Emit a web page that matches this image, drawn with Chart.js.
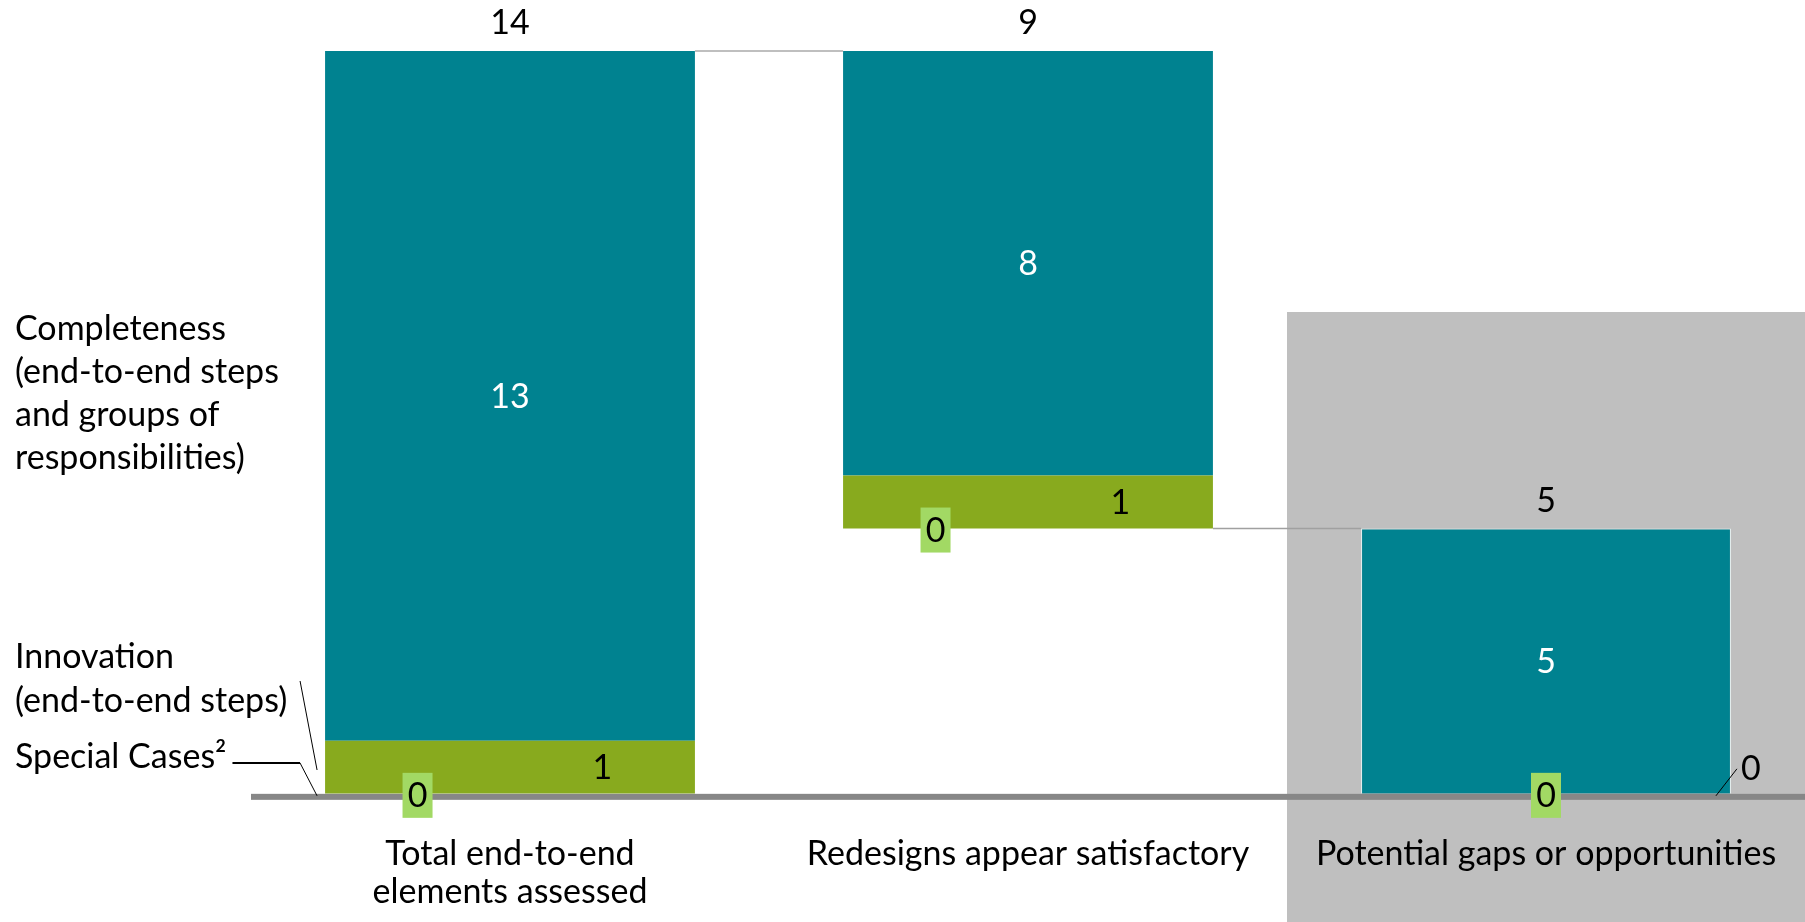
<!DOCTYPE html>
<html>
<head>
<meta charset="utf-8">
<script src="https://cdn.jsdelivr.net/npm/chart.js@4.4.1/dist/chart.umd.min.js"></script>
<style>
  html, body { margin: 0; padding: 0; background: #ffffff; }
  canvas { display: block; }
</style>
</head>
<body>
<canvas id="graficoCascata" width="1805" height="922"></canvas>
<script>
// categorias e series
var categorias = [['Total end-to-end', 'elements assessed'], 'Redesigns appear satisfactory', 'Potential gaps or opportunities'];
var casosEspeciais = [0, 0, 0];
var inovacao = [1, 1, 0];
var completude = [13, 8, 5];

var textoCompletude = ['Completeness', '(end-to-end steps', 'and groups of', 'responsibilities)'];
var textoInovacao = ['Innovation', '(end-to-end steps)'];
var textoEspeciais = 'Special Cases\u00b2';

var totais = categorias.map(function (c, i) {
  return casosEspeciais[i] + inovacao[i] + completude[i];
});
// a segunda barra fica pendurada no topo da primeira
var base = [0, totais[0] - totais[1], 0];

var corAzul = '#008290';
var corVerde = '#88aa1e';
var corCaixa = '#a2d964';
var fonte = '34px Lato';

var decoracao = {
  id: 'decoracao',
  beforeDraw: function (chart) {
    var ctx = chart.ctx;
    var x = chart.scales.x;
    var larg = x.width / categorias.length;
    var esq = x.getPixelForValue(2) - larg / 2;
    ctx.save();
    ctx.fillStyle = '#bfbfbf';
    ctx.fillRect(esq, 312, chart.width - esq, chart.height - 312);
    ctx.restore();
  },
  afterDatasetsDraw: function (chart) {
    var ctx = chart.ctx;
    var x = chart.scales.x;
    var y = chart.scales.y;
    var y0 = y.getPixelForValue(0);
    var mEsp = chart.getDatasetMeta(1).data;
    var mIno = chart.getDatasetMeta(2).data;
    var mCom = chart.getDatasetMeta(3).data;

    ctx.save();
    // linha do eixo
    ctx.fillStyle = '#878787';
    ctx.fillRect(x.left, y0, x.right - x.left, 6);

    // ligacoes entre as barras
    var b1 = mCom[0], b2 = mCom[1], b3 = mCom[2];
    ctx.strokeStyle = '#bfbfbf';
    ctx.lineWidth = 2;
    ctx.beginPath();
    ctx.moveTo(b1.x + b1.width / 2, b1.y);
    ctx.lineTo(b2.x - b2.width / 2, b1.y);
    ctx.stroke();
    var yBase = y.getPixelForValue(base[1]);
    ctx.strokeStyle = '#a0a0a0';
    ctx.lineWidth = 1.5;
    ctx.beginPath();
    ctx.moveTo(b2.x + b2.width / 2, yBase);
    ctx.lineTo(b3.x - b3.width / 2, yBase);
    ctx.stroke();

    ctx.font = fonte;
    ctx.textAlign = 'center';
    ctx.textBaseline = 'alphabetic';

    for (var i = 0; i < categorias.length; i++) {
      var c = mCom[i];
      var ino = mIno[i];
      var esp = mEsp[i];

      // total acima da barra
      ctx.fillStyle = '#000000';
      ctx.fillText(String(totais[i]), c.x, c.y - 17);

      // completude
      ctx.fillStyle = '#ffffff';
      ctx.fillText(String(completude[i]), c.x, (c.y + c.base) / 2 + 12);

      // inovacao
      ctx.fillStyle = '#000000';
      if (inovacao[i] > 0) {
        ctx.fillText(String(inovacao[i]), ino.x + ino.width / 4, (ino.y + ino.base) / 2 + 12);
      } else {
        var dir = ino.x + ino.width / 2;
        ctx.strokeStyle = '#000000';
        ctx.lineWidth = 1;
        ctx.beginPath();
        ctx.moveTo(dir - 15, ino.base + 2);
        ctx.lineTo(dir + 6, ino.base - 25);
        ctx.stroke();
        ctx.fillText(String(inovacao[i]), dir + 20, ino.base - 26 + 12);
      }

      // casos especiais
      var cx = inovacao[i] > 0 ? esp.x - esp.width / 4 : esp.x;
      var cy = esp.base + 1;
      ctx.fillStyle = corCaixa;
      ctx.fillRect(cx - 15, cy - 22, 30, 45);
      ctx.fillStyle = '#000000';
      ctx.fillText(String(casosEspeciais[i]), cx, cy + 12);
    }

    // rotulos das series a esquerda
    ctx.textAlign = 'left';
    ctx.fillStyle = '#000000';
    textoCompletude.forEach(function (t, k) {
      ctx.fillText(t, 15, 340 + k * 43);
    });
    textoInovacao.forEach(function (t, k) {
      ctx.fillText(t, 15, 668 + k * 44);
    });
    ctx.fillText(textoEspeciais, 15, 768);
    var fimTexto = 15 + ctx.measureText(textoEspeciais).width + 6;

    var bl = b1.x - b1.width / 2 - 8;
    ctx.strokeStyle = '#000000';
    ctx.lineWidth = 2;
    ctx.beginPath();
    ctx.moveTo(fimTexto, 763);
    ctx.lineTo(bl - 17, 763);
    ctx.stroke();
    ctx.lineWidth = 1;
    ctx.beginPath();
    ctx.moveTo(bl - 17, 763);
    ctx.lineTo(bl, y0 + 2);
    ctx.moveTo(bl - 17, 681);
    ctx.lineTo(bl, 770);
    ctx.stroke();
    ctx.restore();
  }
};

var ctx = document.getElementById('graficoCascata').getContext('2d');
var chart = new Chart(ctx, {
  type: 'bar',
  data: {
    labels: categorias,
    datasets: [
      {
        label: 'base',
        data: base,
        backgroundColor: 'rgba(0,0,0,0)'
      },
      {
        label: 'Special Cases',
        data: casosEspeciais,
        backgroundColor: corVerde
      },
      {
        label: 'Innovation',
        data: inovacao,
        backgroundColor: corVerde
      },
      {
        label: 'Completeness',
        data: completude,
        backgroundColor: corAzul,
        borderColor: '#e8f4f4',
        borderSkipped: 'bottom',
        borderWidth: function (c) { return c.dataIndex === 2 ? 1 : 0; }
      }
    ]
  },
  options: {
    responsive: false,
    animation: false,
    devicePixelRatio: 1,
    layout: { padding: { left: 251, right: 0, top: 51, bottom: -30 } },
    plugins: {
      legend: { display: false },
      tooltip: { enabled: false }
    },
    datasets: {
      bar: { categoryPercentage: 1, barPercentage: 0.714 }
    },
    scales: {
      x: {
        stacked: true,
        grid: { display: false, drawTicks: false },
        border: { display: false },
        ticks: {
          color: '#000000',
          font: { family: 'Lato', size: 34, lineHeight: 1.12 },
          padding: 41,
          maxRotation: 0,
          autoSkip: false
        },
        // rotulos cabem dentro da faixa, sem margem extra nas pontas
        afterFit: function (escala) {
          escala.paddingLeft = 0;
          escala.paddingRight = 0;
        }
      },
      y: {
        display: false,
        stacked: true,
        min: 0,
        max: Math.max.apply(null, totais)
      }
    }
  },
  plugins: [decoracao]
});
</script>
</body>
</html>
